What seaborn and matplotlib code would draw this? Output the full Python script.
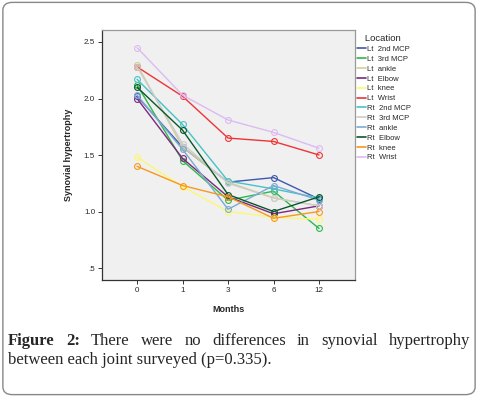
import numpy as np
import pandas as pd
import matplotlib
matplotlib.use("Agg")
import matplotlib.pyplot as plt
from matplotlib.patches import FancyBboxPatch
from matplotlib.lines import Line2D
import seaborn as sns

months = ["0", "1", "3", "6", "12"]
locations = ["Lt  2nd MCP", "Lt  3rd MCP", "Lt  ankle", "Lt  Elbow", "Lt  knee", "Lt  Wrist",
             "Rt  2nd MCP", "Rt  3rd MCP", "Rt  ankle", "Rt  Elbow", "Rt  knee", "Rt  Wrist"]
lt_2nd_mcp = [2.02, 1.57, 1.26, 1.30, 1.11]
lt_3rd_mcp = [2.12, 1.45, 1.10, 1.18, 0.85]
lt_ankle   = [2.30, 1.57, 1.26, 1.12, 1.05]
lt_elbow   = [2.00, 1.47, 1.13, 0.98, 1.05]
lt_knee    = [1.48, 1.22, 1.00, 0.95, 0.93]
lt_wrist   = [2.28, 2.02, 1.65, 1.62, 1.50]
rt_2nd_mcp = [2.17, 1.77, 1.27, 1.20, 1.12]
rt_3rd_mcp = [2.28, 1.60, 1.25, 1.12, 1.05]
rt_ankle   = [2.03, 1.55, 1.02, 1.23, 1.10]
rt_elbow   = [2.10, 1.72, 1.15, 1.00, 1.13]
rt_knee    = [1.40, 1.23, 1.13, 0.94, 1.00]
rt_wrist   = [2.45, 2.03, 1.81, 1.70, 1.56]
series = [lt_2nd_mcp, lt_3rd_mcp, lt_ankle, lt_elbow, lt_knee, lt_wrist,
          rt_2nd_mcp, rt_3rd_mcp, rt_ankle, rt_elbow, rt_knee, rt_wrist]
colors = ["#3E58AC", "#2EB848", "#D3CE97", "#7C287D", "#FBF873", "#EF3338",
          "#48C2C5", "#CCCCCC", "#7AAAD5", "#0A562C", "#F8981D", "#DDBAF1"]
ytick_vals = [0.5, 1.0, 1.5, 2.0, 2.5]
ytick_labels = [".5", "1.0", "1.5", "2.0", "2.5"]

rows = []
for loc, vals in zip(locations, series):
    for m, v in zip(months, vals):
        rows.append({"Months": m, "Synovial hypertrophy": v, "Location": loc})
df = pd.DataFrame(rows)

sns.set_style("white")
plt.rcParams["font.family"] = ["Liberation Sans", "DejaVu Sans"]

fig = plt.figure(figsize=(4.78, 3.97), dpi=100)
box = FancyBboxPatch((0.006, 0.006), 0.988, 0.988, boxstyle="round,pad=0,rounding_size=0.02",
                     transform=fig.transFigure, fill=False, edgecolor="#888888", linewidth=1.0)
fig.patches.append(box)

ax = fig.add_axes([0.2134, 0.2947, 0.5293, 0.6297])
ax.set_facecolor("#F0F0F0")
palette = dict(zip(locations, colors))
sns.lineplot(data=df, x="Months", y="Synovial hypertrophy", hue="Location", palette=palette,
             marker="o", markersize=4.2, markerfacecolor="none", markeredgewidth=0.8,
             linewidth=1.0, ax=ax, legend=False, sort=False)
for line, c in zip(ax.lines, colors):
    line.set_markeredgecolor(c)

ax.set_xlim(-0.77, 4.79)
ax.set_ylim(0.394, 2.606)
ax.set_yticks(ytick_vals)
ax.set_yticklabels(ytick_labels)
ax.tick_params(axis="both", labelsize=5.8, length=3, width=0.7, color="#333333", pad=2, direction="out")
ax.tick_params(axis="both", which="both", left=True, bottom=True)
ax.set_xlabel("Months", fontsize=6.5, fontweight="bold", labelpad=8)
ax.set_ylabel("Synovial hypertrophy", fontsize=6.5, fontweight="bold", labelpad=8)
for s in ["left", "bottom"]:
    ax.spines[s].set_color("#333333")
    ax.spines[s].set_linewidth(0.9)
for s in ["top", "right"]:
    ax.spines[s].set_color("#999999")
    ax.spines[s].set_linewidth(0.9)

handles = [Line2D([0], [0], color=c, linewidth=1.2) for c in colors]
leg = ax.legend(handles, locations, title="   Location", loc="upper left",
                bbox_to_anchor=(1.0, 0.99), frameon=False, fontsize=5.5, title_fontsize=6.8,
                handlelength=1.2, handletextpad=0.2, labelspacing=0.33, borderaxespad=0.0,
                borderpad=0.2)
leg._legend_box.align = "left"

fig.canvas.draw()
renderer = fig.canvas.get_renderer()
words1 = [("Figure", "bold"), ("2:", "bold"), ("There", "normal"), ("were", "normal"), ("no", "normal"),
          ("differences", "normal"), ("in", "normal"), ("synovial", "normal"), ("hypertrophy", "normal")]
x0, x1 = 8 / 478, 470 / 478
y1 = 1 - 345 / 397
texts = []
for w, fw in words1:
    t = fig.text(0, y1, w, fontsize=12, fontweight=fw, family=["Liberation Serif", "DejaVu Serif"],
                 ha="left", va="baseline")
    texts.append(t)
widths = [t.get_window_extent(renderer).width / fig.bbox.width for t in texts]
gap = ((x1 - x0) - sum(widths)) / (len(texts) - 1)
x = x0
for t, w in zip(texts, widths):
    t.set_x(x)
    x += w + gap
fig.text(x0, 1 - 364 / 397, "between each joint surveyed (p=0.335).", fontsize=12,
         family=["Liberation Serif", "DejaVu Serif"], ha="left", va="baseline")

fig.savefig("out.png", dpi=100)
